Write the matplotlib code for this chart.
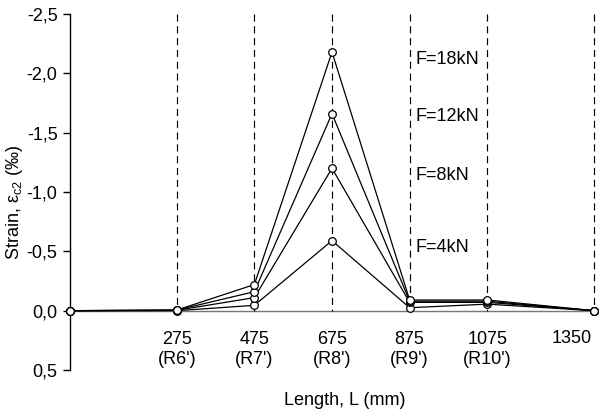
import numpy as np
import matplotlib
matplotlib.use("Agg")
import matplotlib.pyplot as plt

plt.rcParams['font.family'] = ['Liberation Sans', 'DejaVu Sans']
plt.rcParams['mathtext.fontset'] = 'custom'
plt.rcParams['mathtext.rm'] = 'Liberation Sans'
plt.rcParams['mathtext.it'] = 'Liberation Sans'

# positions of the strain gauges along the beam (mm)
lengths = [0, 275, 475, 675, 875, 1075, 1350]
tickNames = ["", "275\n(R6')", "475\n(R7')", "675\n(R8')", "875\n(R9')", "1075\n(R10')", ""]
dashedAt = [275, 475, 675, 875, 1075, 1350]

# strain for each load step (per mille, compression negative)
strain18 = [0, -0.005, -0.22, -2.18, -0.09, -0.09, 0]
strain12 = [0, -0.005, -0.16, -1.66, -0.08, -0.08, 0]
strain8 = [0, -0.003, -0.11, -1.20, -0.07, -0.07, 0]
strain4 = [0, 0, -0.045, -0.59, -0.025, -0.055, 0]

loadNames = ["F=18kN", "F=12kN", "F=8kN", "F=4kN"]
loadLabelY = [-2.12, -1.64, -1.14, -0.53]

fig = plt.figure(figsize=(6.05, 4.17), dpi=100)
# axes run a bit past 1350 so the last dashed line is not cut off
ax = fig.add_axes([70 / 605, 0.1127, 534 / 605, 0.8537])
xmax = 1350 * 534 / 524

for xd in dashedAt:
    ax.vlines(xd, -2.5, 0, colors='black', lw=0.85, linestyles=(0, (6, 4)), zorder=2)
ax.plot([0, 1350], [0, 0], color='#777777', lw=1.0, zorder=1)

for s in [strain4, strain8, strain12, strain18]:
    ax.plot(lengths, s, color='black', lw=0.9, marker='o', markersize=5.5,
            markerfacecolor='white', markeredgecolor='black', markeredgewidth=0.9,
            clip_on=False, zorder=3)

for name, yl in zip(loadNames, loadLabelY):
    ax.text(890, yl, name, fontsize=13, ha='left', va='center')

for xd, nm in zip(lengths, tickNames):
    if nm:
        ax.text(xd, 0.33, nm, fontsize=13, ha='center', va='center', linespacing=1.25)
ax.text(1343, 0.235, "1350", fontsize=13, ha='right', va='center')

ax.set_xlim(0, xmax)
ax.set_ylim(0.5, -2.5)
ax.set_xticks([])
yt = np.arange(-2.5, 0.51, 0.5)
ax.set_yticks(yt)
ax.set_yticklabels([f"{v:.1f}".replace('.', ',') for v in yt], fontsize=13)
ax.tick_params(axis='y', direction='out', length=5, width=1, pad=4)

for sp in ['top', 'right', 'bottom']:
    ax.spines[sp].set_visible(False)
ax.spines['left'].set_linewidth(1)

ax.set_ylabel("Strain, ε$_{\\mathrm{c2}}$ (‰)", fontsize=13)
ax.yaxis.set_label_coords(-0.085, 0.47)
ax.text(275 / 534, -0.085, "Length, L (mm)", transform=ax.transAxes, fontsize=13,
        ha='center', va='center')

fig.savefig("out.png", dpi=100)
